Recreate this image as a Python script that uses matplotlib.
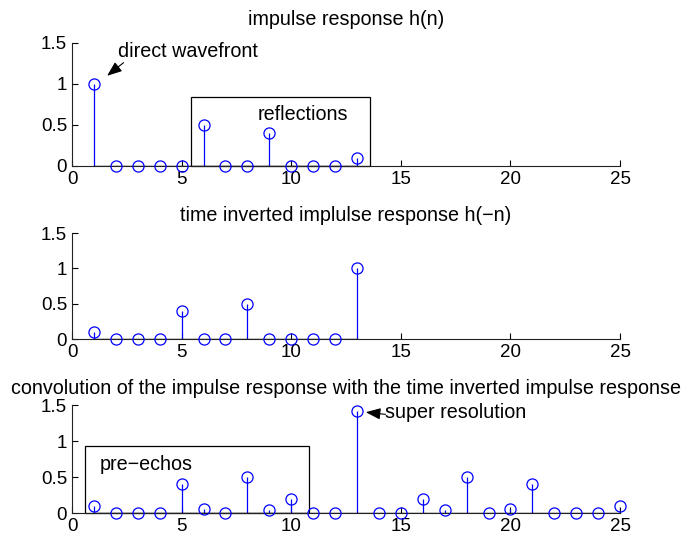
import matplotlib
matplotlib.use("Agg")
import matplotlib.pyplot as plt
from matplotlib.patches import Rectangle

plt.rcParams['font.family'] = ['Liberation Sans', 'DejaVu Sans']
plt.rcParams['font.size'] = 14

n_h = list(range(1, 14))
h = [1, 0, 0, 0, 0, 0.5, 0, 0, 0.4, 0, 0, 0, 0.1]
h_inv = [0.1, 0, 0, 0, 0.4, 0, 0, 0.5, 0, 0, 0, 0, 1]
n_c = list(range(1, 26))
conv = [0.1, 0, 0, 0, 0.4, 0.05, 0, 0.5, 0.04, 0.2, 0, 0, 1.42,
        0, 0, 0.2, 0.04, 0.5, 0, 0.05, 0.4, 0, 0, 0, 0.1]

titles = ["impulse response h(n)",
          "time inverted implulse response h(\u2212n)",
          "convolution of the impulse response with the time inverted impulse response"]
xticks = [0, 5, 10, 15, 20, 25]
yticks = [0, 0.5, 1, 1.5]
yticklabels = ["0", "0.5", "1", "1.5"]

fig = plt.figure(figsize=(6.88, 5.40), dpi=100)
positions = [[0.1047, 0.6926, 0.7965, 0.2278],
             [0.1047, 0.3722, 0.7965, 0.1963],
             [0.1047, 0.0500, 0.7965, 0.2000]]
pads = [13, 9, 8]
datasets = [(n_h, h), (n_h, h_inv), (n_c, conv)]

axes = []
for pos, (xs, ys), title, pad in zip(positions, datasets, titles, pads):
    ax = fig.add_axes(pos)
    ml, sl, bl = ax.stem(xs, ys, basefmt='k-')
    plt.setp(sl, color='#0000ff', linewidth=0.9)
    plt.setp(ml, marker='o', markerfacecolor='none', markeredgecolor='#0000ff',
             markersize=8, markeredgewidth=0.9, clip_on=False, zorder=3)
    plt.setp(bl, color='black', linewidth=1.0)
    ax.set_xlim(0, 25)
    ax.set_ylim(0, 1.5)
    ax.set_xticks(xticks)
    ax.set_yticks(yticks)
    ax.set_yticklabels(yticklabels)
    ax.spines['top'].set_visible(False)
    ax.spines['right'].set_visible(False)
    for s in ['left', 'bottom']:
        ax.spines[s].set_color('#222222')
        ax.spines[s].set_linewidth(0.8)
    ax.tick_params(direction='in', length=4, width=0.8, colors='black',
                   labelsize=13.5)
    ax.set_title(title, fontsize=14.2, pad=pad)
    axes.append(ax)

arrow_kw = dict(arrowstyle='-|>,head_length=0.9,head_width=0.35', color='black',
                lw=0.8, shrinkA=0, shrinkB=0, mutation_scale=10)

ax1, ax2, ax3 = axes
ax1.add_patch(Rectangle((5.41, 0), 13.6 - 5.41, 0.845, fill=False,
                        edgecolor='black', linewidth=0.9, clip_on=False))
ax1.text(10.55, 0.63, "reflections", ha='center', va='center', fontsize=14.2)
ax1.text(2.1, 1.40, "direct wavefront", ha='left', va='center', fontsize=14.2)
ax1.annotate("", xy=(1.6, 1.10), xytext=(2.35, 1.26), arrowprops=arrow_kw)

ax3.add_patch(Rectangle((0.6, 0), 10.8 - 0.6, 0.93, fill=False,
                        edgecolor='black', linewidth=0.9, clip_on=False))
ax3.text(1.25, 0.67, "pre\u2212echos", ha='left', va='center', fontsize=14.2)
ax3.text(14.3, 1.39, "super resolution", ha='left', va='center', fontsize=14.2)
ax3.annotate("", xy=(13.4, 1.40), xytext=(14.3, 1.37), arrowprops=arrow_kw)

fig.savefig("out.png", dpi=100)
